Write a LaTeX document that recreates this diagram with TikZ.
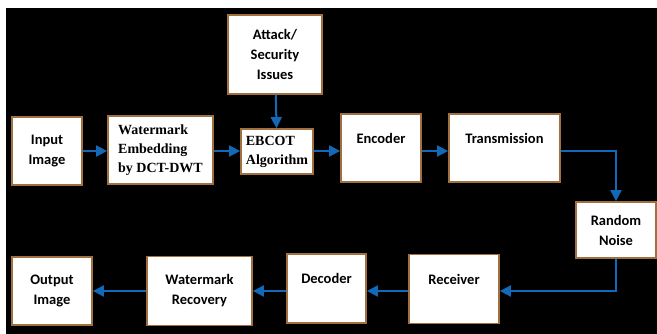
\documentclass[tikz,border=0pt]{standalone}
\usepackage{fontspec}
\setmainfont{Liberation Serif}
\setsansfont{Carlito}
\usetikzlibrary{arrows.meta}
\definecolor{boxedge}{RGB}{160,112,62}
\definecolor{flowblue}{RGB}{20,104,184}

\begin{document}
\begin{tikzpicture}[x=1pt, y=-1pt, >={Triangle[length=11pt,width=11pt]},
    blk/.style={draw=boxedge, fill=white, line width=1.8pt, inner sep=1pt, align=center,
      font=\sffamily\bfseries\fontsize{14.5}{20}\selectfont},
    serifblk/.style={blk, align=left, font=\rmfamily\bfseries\fontsize{14}{19}\selectfont},
    flow/.style={->, flowblue, line width=2pt}]
    \useasboundingbox (0,0) rectangle (657,334);
    \fill[white] (0,0) rectangle (657,334);
    \fill[black] (6,8) rectangle (657,334);

    % top row
    \node[blk, minimum width=70, minimum height=68] (in) at (47,151) {Input\\Image};
    \node[serifblk, minimum width=105, minimum height=68] (emb) at (160.5,150) {Watermark\\Embedding\\by DCT-DWT};
    \node[blk, minimum width=94, minimum height=79] (att) at (275,54.5) {Attack/\\Security\\Issues};
    \node[serifblk, minimum width=72, minimum height=45] (ebc) at (277,151.5) {EBCOT\\Algorithm};
    \node[blk, minimum width=80, minimum height=68] (enc) at (381,148) {Encoder\\\mbox{}};
    \node[blk, minimum width=111, minimum height=68] (tra) at (504.5,148) {Transmission\\\mbox{}};

    % channel and bottom row
    \node[blk, minimum width=80, minimum height=56] (noi) at (616,230) {Random\\Noise};
    \node[blk, minimum width=90, minimum height=69] (rec) at (454,289) {Receiver\\\mbox{}};
    \node[blk, minimum width=79, minimum height=69] (dec) at (326.5,288.5) {Decoder\\\mbox{}};
    \node[blk, minimum width=105, minimum height=69] (wrec) at (199.5,291) {Watermark\\Recovery};
    \node[blk, minimum width=80, minimum height=68] (out) at (52,291) {Output\\Image};

    \draw[flow] (in) -- (emb.west |- in);
    \draw[flow] (emb.east |- in) -- (ebc.west |- in);
    \draw[flow] (att) -- (ebc);
    \draw[flow] (ebc.east |- in) -- (enc.west |- in);
    \draw[flow] (enc.east |- in) -- (tra.west |- in);
    \draw[flow] (tra.east |- in) -| (noi.north);
    \draw[flow] (noi.south) |- (rec.east |- out);
    \draw[flow] (rec.west |- out) -- (dec.east |- out);
    \draw[flow] (dec.west |- out) -- (wrec.east |- out);
    \draw[flow] (wrec) -- (out);
\end{tikzpicture}
\end{document}
